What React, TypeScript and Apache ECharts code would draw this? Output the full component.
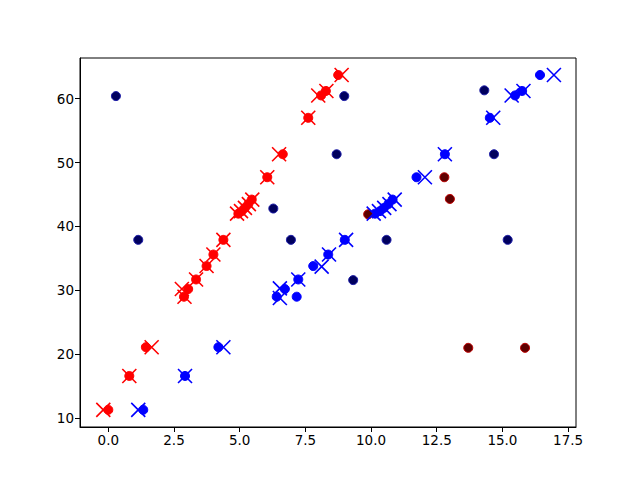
import React, { useEffect, useRef } from "react";
import * as echarts from "echarts";

// Data
const redCircles: number[][] = [
  [0.0, 11.3], [0.8, 16.6], [1.43, 21.1], [2.88, 29.0], [3.04, 30.2], [3.34, 31.7],
  [3.74, 33.8], [4.0, 35.6], [4.38, 37.9], [4.95, 42.0], [5.08, 42.4], [5.2, 42.9],
  [5.33, 43.5], [5.46, 44.2], [6.05, 47.7], [6.64, 51.3], [7.61, 57.0], [8.1, 60.5],
  [8.28, 61.2], [8.75, 63.7],
];
const redCrosses: number[][] = [
  [-0.19, 11.3], [0.8, 16.6], [1.65, 21.1], [2.9, 29.0], [2.8, 30.2], [3.34, 31.7],
  [3.74, 33.8], [4.0, 35.6], [4.38, 37.9], [4.9, 42.0], [5.05, 42.4], [5.2, 42.9],
  [5.35, 43.5], [5.48, 44.2], [6.05, 47.7], [6.5, 51.3], [7.61, 57.0], [7.99, 60.5],
  [8.3, 61.2], [8.88, 63.7],
];
const blueCircles: number[][] = [
  [1.33, 11.3], [2.92, 16.6], [4.19, 21.1], [6.41, 29.0], [7.17, 29.0], [6.72, 30.2],
  [7.23, 31.7], [7.8, 33.8], [8.37, 35.6], [9.0, 37.9], [10.15, 42.0], [10.34, 42.4],
  [10.49, 42.9], [10.66, 43.5], [10.82, 44.2], [11.73, 47.7], [12.81, 51.3],
  [14.52, 57.0], [15.48, 60.5], [15.75, 61.2], [16.43, 63.7],
];
const blueCrosses: number[][] = [
  [1.14, 11.3], [2.92, 16.6], [4.38, 21.1], [6.53, 28.8], [6.53, 30.3], [7.23, 31.7],
  [8.12, 33.7], [8.4, 35.6], [9.05, 37.9], [10.1, 42.0], [10.3, 42.4], [10.5, 42.9],
  [10.7, 43.5], [10.9, 44.2], [12.05, 47.7], [12.81, 51.3], [14.65, 57.0],
  [15.35, 60.5], [15.8, 61.2], [16.96, 63.7],
];
const navyCircles: number[][] = [
  [0.29, 60.4], [1.14, 37.9], [6.28, 42.8], [6.95, 37.9], [8.69, 51.3], [8.98, 60.4],
  [9.32, 31.6], [10.59, 37.9], [14.31, 61.3], [14.68, 51.3], [15.2, 37.9],
];
const maroonCircles: number[][] = [
  [9.89, 41.9], [12.79, 47.7], [13.0, 44.3], [13.7, 21.0], [15.86, 21.0],
];
const xTicks = [0, 2.5, 5, 7.5, 10, 12.5, 15, 17.5];
const yTicks = [10, 20, 30, 40, 50, 60];

const CROSS = "path://M0,0L10,10M10,0L0,10";

export default function App() {
  const ref = useRef<HTMLDivElement>(null);
  useEffect(() => {
    if (!ref.current) return;
    const chart = echarts.init(ref.current, undefined, { renderer: "svg" });
    const circle = (name: string, data: number[][], fill: string, edge: string, z: number) => ({
      name,
      type: "scatter",
      data,
      symbol: "circle",
      symbolSize: 9,
      z,
      itemStyle: { color: fill, borderColor: edge, borderWidth: 1, opacity: 1 },
      emphasis: { disabled: true },
    });
    const cross = (name: string, data: number[][], color: string, z: number) => ({
      name,
      type: "scatter",
      data,
      symbol: CROSS,
      symbolSize: 14,
      z,
      itemStyle: { color: "none", borderColor: color, borderWidth: 1.6, opacity: 1 },
      emphasis: { disabled: true },
    });
    const axisCommon = {
      axisLine: { show: true, onZero: false, lineStyle: { color: "#000", width: 1 } },
      splitLine: { show: false },
      axisLabel: { color: "#000", fontSize: 13.5, fontFamily: "DejaVu Sans", margin: 6 },
    };
    chart.setOption({
      animation: false,
      backgroundColor: "#fff",
      grid: { left: 80, right: 64, top: 58, bottom: 53, show: true, borderColor: "#000", borderWidth: 1, backgroundColor: "transparent" },
      xAxis: {
        type: "value",
        min: -1.077,
        max: 17.8,
        ...axisCommon,
        axisTick: { show: true, length: 5, inside: false, lineStyle: { color: "#000" }, customValues: xTicks },
        axisLabel: { ...axisCommon.axisLabel, customValues: xTicks, formatter: (v: number) => v.toFixed(1) },
      },
      yAxis: {
        type: "value",
        min: 8.61,
        max: 66.36,
        ...axisCommon,
        axisTick: { show: true, length: 5, inside: false, lineStyle: { color: "#000" }, customValues: yTicks },
        axisLabel: { ...axisCommon.axisLabel, customValues: yTicks, formatter: (v: number) => String(v) },
      },
      series: [
        circle("red", redCircles, "#ff0000", "#ff0000", 2),
        circle("blue", blueCircles, "#0000ff", "#0000ff", 3),
        circle("navy", navyCircles, "#00005e", "#1c1ca8", 4),
        circle("maroon", maroonCircles, "#5e0000", "#c00000", 5),
        cross("redX", redCrosses, "#ff0000", 6),
        cross("blueX", blueCrosses, "#0000ff", 7),
      ],
    });
    return () => chart.dispose();
  }, []);
  return (
    <div
      ref={ref}
      style={{ position: "fixed", left: 0, top: 0, width: 640, height: 480 }}
    />
  );
}
